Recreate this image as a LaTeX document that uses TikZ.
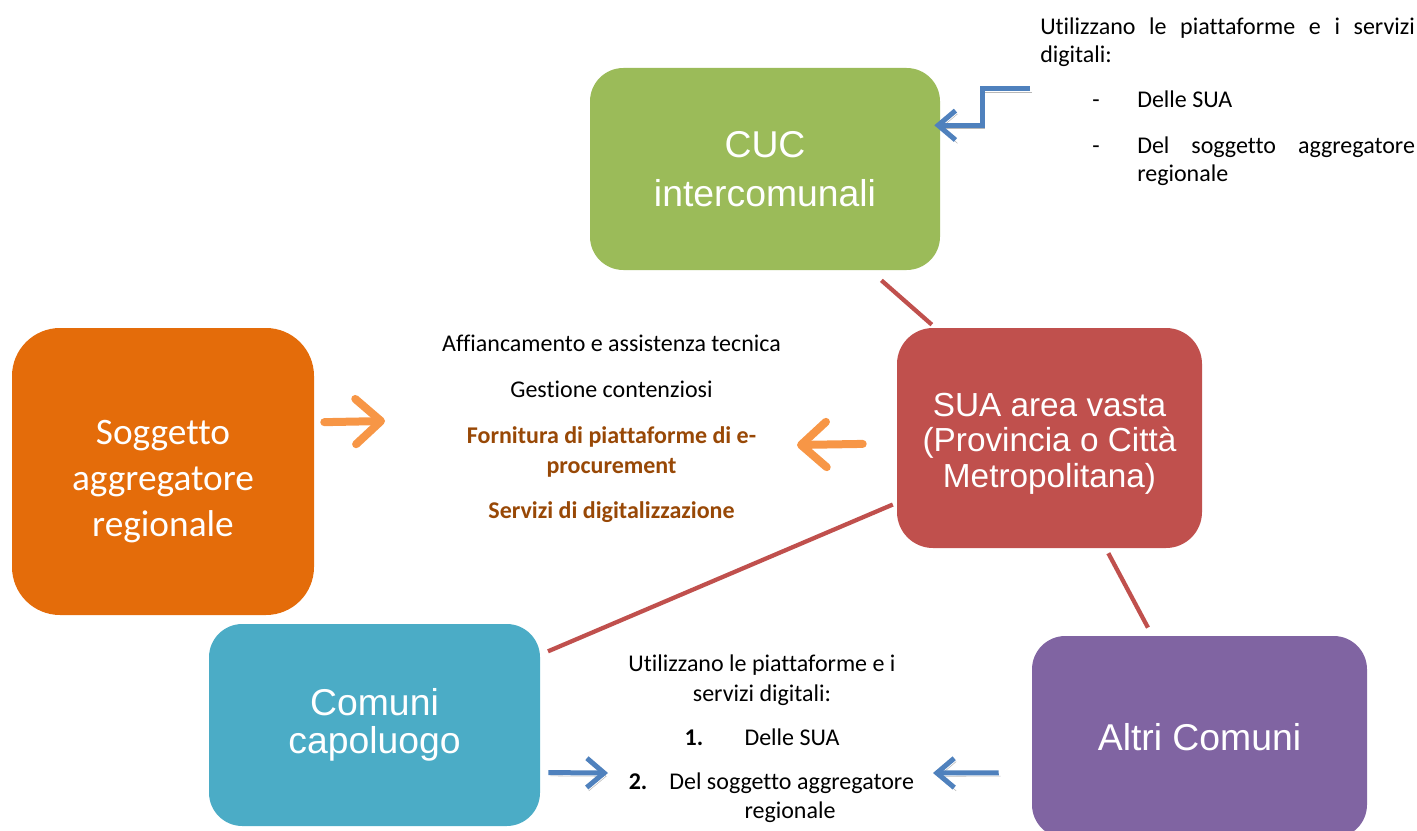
\documentclass[tikz,border=0pt]{standalone}
\usepackage{fontspec}
\setmainfont{Carlito}[Ligatures=NoCommon]
\newfontfamily\arialfont{Liberation Sans}
\usetikzlibrary{arrows.meta}
\definecolor{cucgreen}{HTML}{9BBB59}
\definecolor{suared}{HTML}{C0504D}
\definecolor{sarorange}{HTML}{E46C0A}
\definecolor{capteal}{HTML}{4BACC6}
\definecolor{altripurple}{HTML}{8064A2}
\definecolor{arrorange}{HTML}{F79646}
\definecolor{arrblue}{HTML}{4F81BD}
\definecolor{txtbrown}{HTML}{984806}
\tikzset{
	box/.style={rounded corners=25pt, text=white, align=center, inner sep=0pt},
	link/.style={draw=suared, line width=3.2pt},
	oarrow/.style={draw=arrorange, line width=6pt, line cap=round, -{Straight Barb[length=19pt,width=34pt,round]}},
	barrow/.style={draw=arrblue, line width=3.75pt, -{Straight Barb[length=13pt,width=22pt]},
		preaction={draw=black!28, transform canvas={shift={(1.5pt,-2.5pt)}}}},
	plain/.style={font=\fontsize{18}{22}\selectfont, inner sep=0pt, align=center},
}

\begin{document}
\begin{tikzpicture}[x=0.75pt, y=-0.75pt]
	\useasboundingbox (0,0) rectangle (1417,831);
	\node (CUC) [box, fill=cucgreen, minimum width=262.5pt, minimum height=151.5pt, font=\arialfont\fontsize{28}{37}\selectfont] at (765,169) {CUC\\intercomunali};
	\node (SUA) [box, fill=suared, minimum width=228.75pt, minimum height=165pt, rounded corners=27pt, font=\arialfont\fontsize{25}{26.5}\selectfont] at (1049.5,438) {\rule{0pt}{26pt}SUA area vasta\\(Provincia o Città\\Metropolitana)};
	\node (SAR) [box, fill=sarorange, minimum width=226.5pt, minimum height=215.25pt, rounded corners=36pt, font=\fontsize{28}{34.5}\selectfont] at (163,471.5) {\rule{0pt}{33pt}Soggetto\\aggregatore\\regionale};
	\node (CAP) [box, fill=capteal, minimum width=248.25pt, minimum height=151.5pt, font=\arialfont\fontsize{28}{28}\selectfont] at (374.5,725) {Comuni\\capoluogo};
	\node (ALTRI) [box, fill=altripurple, minimum width=251.25pt, minimum height=151.5pt, font=\arialfont\fontsize{28}{34}\selectfont] at (1199.5,737) {Altri Comuni};
	
	\node (TSERV) [plain, anchor=north] at (611.5,335) {Affiancamento e assistenza tecnica\\[12.5pt]
		Gestione contenziosi\\[12.5pt]
		{\color{txtbrown}\bfseries Fornitura di piattaforme di e-}\\
		{\color{txtbrown}\bfseries procurement}\\[12pt]
		{\color{txtbrown}\bfseries Servizi di digitalizzazione}};
	\node (TCOM) [plain, anchor=north] at (762,655) {Utilizzano le piattaforme e i\\
		servizi digitali:\\[11pt]
		\textbf{1.}\hspace{31pt}Delle SUA\\[11pt]
		\hspace*{14pt}\textbf{2.}\hspace{16.5pt}Del soggetto aggregatore\\
		\hspace*{42pt}regionale};
	\node (TCUC) [anchor=north west, inner sep=0pt, text width=281pt, align=justify, font=\fontsize{18}{21}\selectfont] at (1040,17.5) {\setlength{\parskip}{13pt}\noindent Utilizzano le piattaforme e i servizi\linebreak digitali:\par
		\hangindent=72.75pt\noindent\hspace*{39pt}\makebox[33.75pt][l]{-}Delle SUA\par
		\hangindent=72.75pt\noindent\hspace*{39pt}\makebox[33.75pt][l]{-}Del soggetto aggregatore\linebreak regionale\par};
	
	\coordinate (OA1) at (385,421);
	\coordinate (OA2) at (797,445);
	\coordinate (BA1) at (608,773);
	\coordinate (BA2) at (933,773);
	\coordinate (BA3) at (1030,89);
	
	\path [link, shorten <=11.5pt, shorten >=3.5pt] (CUC.-44.9) -- (SUA.136.5);
	\path [link, shorten <=3.2pt, shorten >=6.3pt] (SUA.203.2) -- (CAP.23);
	\path [link, shorten <=4.2pt, shorten >=6.9pt] (SUA.-63) -- (ALTRI.115.9);
	
	\path [oarrow, shorten <=7.5pt] (SAR.18.6) -- (OA1);
	\path [oarrow, shorten <=25.5pt] (SUA.182.6) -- (OA2);
	\path [barrow, shorten <=6pt] (CAP.-16.2) -- (BA1);
	\path [barrow, shorten <=24.75pt] (ALTRI.192.1) -- (BA2);
	\path [barrow, shorten >=-4.5pt] (BA3) -- ++(-48,0) |- (CUC.14.1);
\end{tikzpicture}
\end{document}
